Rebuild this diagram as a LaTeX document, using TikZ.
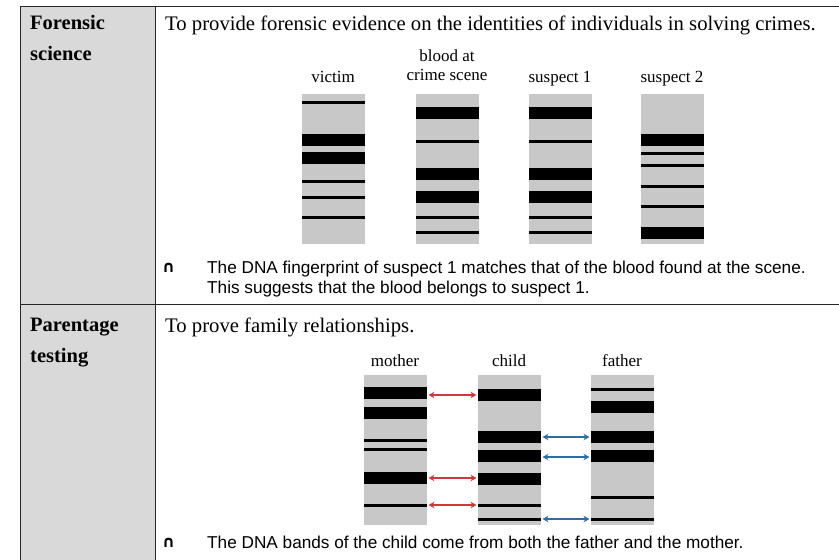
\documentclass[tikz,border=0pt]{standalone}
\usepackage{fontspec}
\setmainfont{Liberation Serif}
\newfontfamily\arialf{Liberation Sans}
\newfontfamily\djv{DejaVu Sans}
\usetikzlibrary{arrows.meta}
\definecolor{colgray}{HTML}{D9D9D9}
\definecolor{lanegray}{HTML}{C8C8C8}
\definecolor{arrred}{HTML}{D0383F}
\definecolor{arrblue}{HTML}{2E6DA4}
\newcommand\bnd[3]{\fill[black] (#1.west |- 0,#2) rectangle (#1.east |- 0,#3);}
\begin{document}
\begin{tikzpicture}[x=1pt,y=-1pt,
  lane/.style={fill=lanegray, draw=none, minimum width=63pt, inner sep=0pt, outer sep=0pt, anchor=north west},
  head/.style={anchor=base west, inner sep=0pt, font=\fontsize{20.5}{23}\selectfont\bfseries},
  body/.style={anchor=base west, inner sep=0pt, font=\fontsize{20.7}{23}\selectfont},
  lbl/.style={anchor=base, inner sep=0pt, font=\fontsize{17}{19}\selectfont},
  note/.style={anchor=base west, inner sep=0pt, font=\arialf\fontsize{17.2}{20}\selectfont},
  bul/.style={anchor=base west, inner sep=0pt, font=\djv\bfseries\fontsize{16}{18}\selectfont},
  redarr/.style={arrred, line width=1.1pt, {Stealth[length=6pt,width=6.5pt]}-{Stealth[length=6pt,width=6.5pt]}, shorten <=1.5pt, shorten >=1.5pt},
  bluearr/.style={arrblue, line width=1.1pt, {Stealth[length=6pt,width=6.5pt]}-{Stealth[length=6pt,width=6.5pt]}, shorten <=1.5pt, shorten >=1.5pt},
  rule/.style={black!85, line width=1pt}]
\useasboundingbox (0,0) rectangle (839,560);
% table
\fill[colgray] (20,6) rectangle (155,560);
\draw[rule] (20,560) -- (20,6) -- (839,6);
\draw[rule] (155,6) -- (155,560);
\draw[rule] (20,304) -- (839,304);
% row 1 texts
\node[head] (h1a) at (30,29) {Forensic};
\node[head] (h1b) at (30,60) {science};
\node[body] (t1) at (165,30) {To provide forensic evidence on the identities of individuals in solving crimes.};
% top lanes
\node[lane, minimum height=150pt] (victim) at (302,94) {};
\node[lane, minimum height=150pt] (blood) at (416,94) {};
\node[lane, minimum height=150pt] (sus1) at (529,94) {};
\node[lane, minimum height=150pt] (sus2) at (641,94) {};
\node[lbl] (lv) at (333,82) {victim};
\node[lbl] (lb1) at (447,61) {blood at};
\node[lbl] (lb2) at (447,80) {crime scene};
\node[lbl] (ls1) at (560,82) {suspect 1};
\node[lbl] (ls2) at (672,82) {suspect 2};
% victim bands
\bnd{victim}{101}{104}
\bnd{victim}{134}{146}
\bnd{victim}{152}{163.5}
\bnd{victim}{179.5}{182.5}
\bnd{victim}{195.5}{198.5}
\bnd{victim}{215.5}{218.5}
% blood bands
\bnd{blood}{107}{119}
\bnd{blood}{139.5}{142.5}
\bnd{blood}{168}{180}
\bnd{blood}{191}{203}
\bnd{blood}{215.5}{218.5}
\bnd{blood}{230.5}{233.5}
% suspect 1 bands
\bnd{sus1}{107}{119}
\bnd{sus1}{139.5}{142.5}
\bnd{sus1}{168}{180}
\bnd{sus1}{191}{203}
\bnd{sus1}{215.5}{218.5}
\bnd{sus1}{230.5}{233.5}
% suspect 2 bands
\bnd{sus2}{134}{145.5}
\bnd{sus2}{151.5}{154.5}
\bnd{sus2}{163.5}{166.5}
\bnd{sus2}{184.5}{187.5}
\bnd{sus2}{204.5}{207.5}
\bnd{sus2}{227}{239}
% note 1
\node[bul] (b1) at (162,272) {∩};
\node[note] (n1a) at (207,273) {The DNA fingerprint of suspect 1 matches that of the blood found at the scene.};
\node[note] (n1b) at (207,293) {This suggests that the blood belongs to suspect 1.};
% row 2 texts
\node[head] (h2a) at (30,331) {Parentage};
\node[head] (h2b) at (30,362) {testing};
\node[body] (t2) at (165,332) {To prove family relationships.};
% bottom lanes
\node[lane, minimum height=150pt] (mother) at (364,375) {};
\node[lane, minimum height=150pt] (child) at (478,375) {};
\node[lane, minimum height=150pt] (father) at (591,375) {};
\node[lbl] (lm) at (395,366) {mother};
\node[lbl] (lc) at (509,366) {child};
\node[lbl] (lf) at (622,366) {father};
% mother bands
\bnd{mother}{387}{399}
\bnd{mother}{407}{419}
\bnd{mother}{438.5}{441.5}
\bnd{mother}{447.5}{450.5}
\bnd{mother}{472}{483.5}
\bnd{mother}{503.5}{506.5}
% child bands
\bnd{child}{389}{401}
\bnd{child}{431}{443}
\bnd{child}{450}{462}
\bnd{child}{473}{485}
\bnd{child}{503.5}{506.5}
\bnd{child}{517.5}{520.5}
% father bands
\bnd{father}{387.5}{390.5}
\bnd{father}{401}{413}
\bnd{father}{431}{443}
\bnd{father}{450}{462}
\bnd{father}{495.5}{498.5}
\bnd{father}{517.5}{520.5}
% arrows
\draw[redarr] (mother.east |- 0,395) -- (child.west |- 0,395);
\draw[redarr] (mother.east |- 0,478) -- (child.west |- 0,478);
\draw[redarr] (mother.east |- 0,505) -- (child.west |- 0,505);
\draw[bluearr] (child.east |- 0,437) -- (father.west |- 0,437);
\draw[bluearr] (child.east |- 0,457) -- (father.west |- 0,457);
\draw[bluearr] (child.east |- 0,519) -- (father.west |- 0,519);
% note 2
\node[bul] (b2) at (162,547) {∩};
\node[note] (n2) at (207,548) {The DNA bands of the child come from both the father and the mother.};
\end{tikzpicture}
\end{document}
